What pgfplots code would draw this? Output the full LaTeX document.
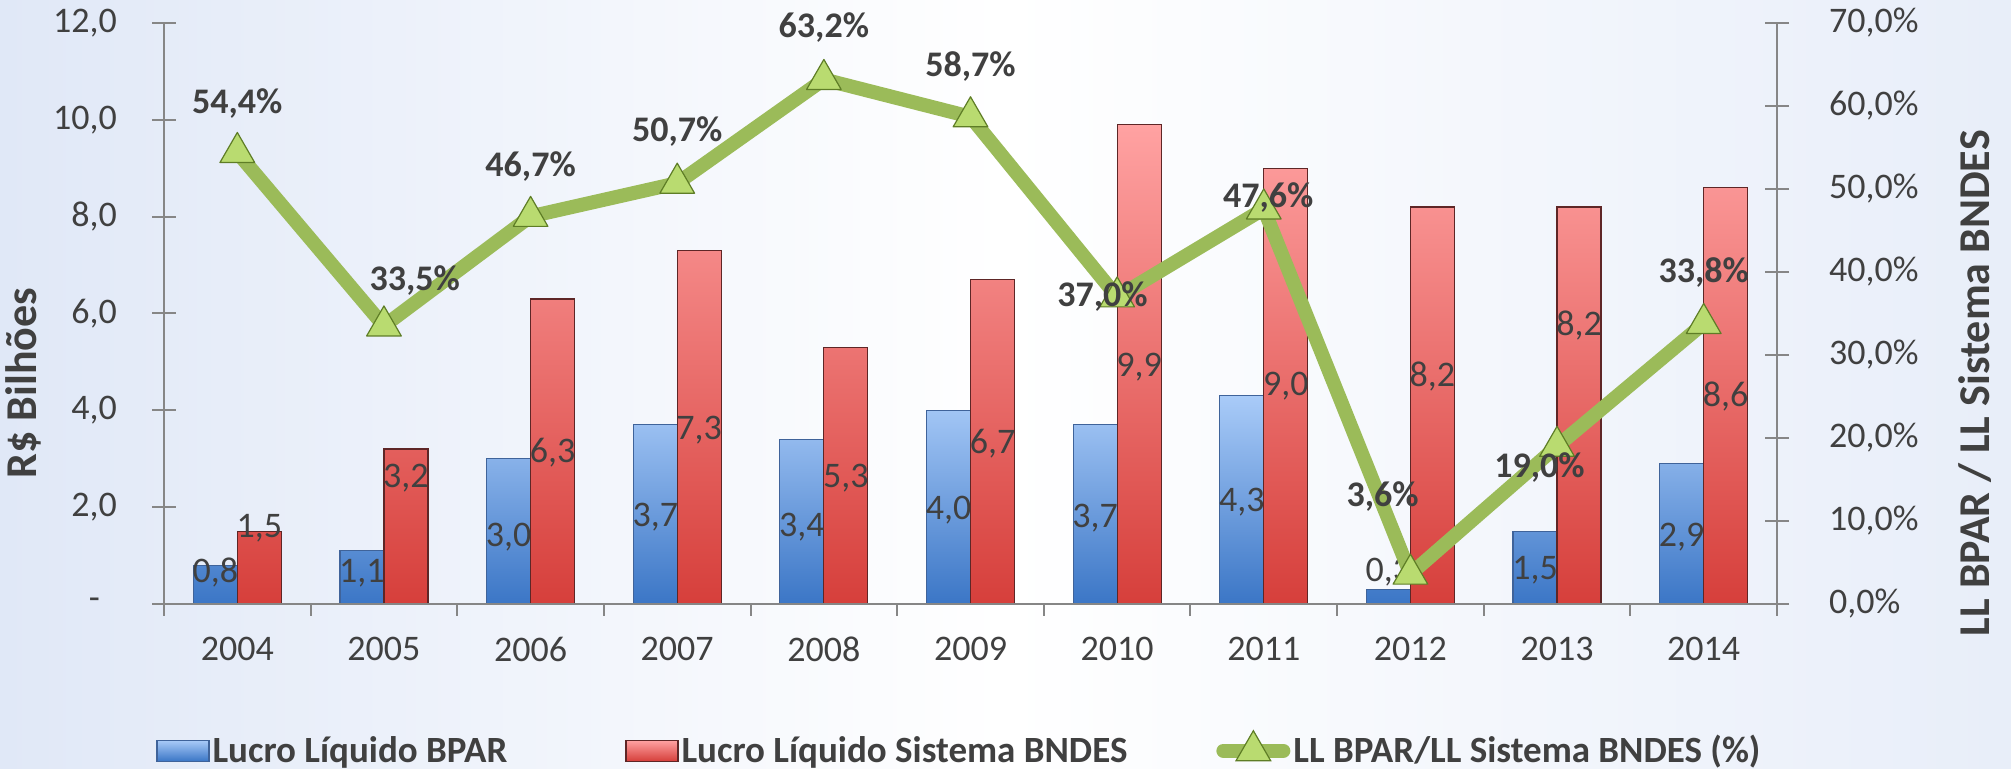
\documentclass[border=0pt]{standalone}
\usepackage{pgfplots}
\pgfplotsset{compat=1.18}
\usepackage{pgfplotstable}
\usepackage{fontspec}
\setmainfont{Carlito}

\definecolor{textgray}{HTML}{404040}
\definecolor{axisgray}{HTML}{868686}
\definecolor{blueTop}{HTML}{A9CBF8}
\definecolor{blueBot}{HTML}{3B76C6}
\definecolor{blueEdge}{HTML}{3F639A}
\definecolor{redTop}{HTML}{FFA2A2}
\definecolor{redBot}{HTML}{D63F3B}
\definecolor{redEdge}{HTML}{5E2626}
\definecolor{lineGreen}{HTML}{9BBB59}
\definecolor{markFill}{HTML}{B9DB70}
\definecolor{markEdge}{HTML}{5E7D26}
\definecolor{bgblue}{HTML}{E0E8F7}

% x = category index (2004 = 0), v = value, ly = label height
\pgfplotstableread{
x v ly
0 0.8 0.66
1 1.1 0.64
2 3.0 1.38
3 3.7 1.80
4 3.4 1.59
5 4.0 1.94
6 3.7 1.78
7 4.3 2.11
8 0.3 0.66
9 1.5 0.70
10 2.9 1.38
}\bpar

\pgfplotstableread{
x v ly
0 1.5 1.57
1 3.2 2.60
2 6.3 3.12
3 7.3 3.59
4 5.3 2.60
5 6.7 3.32
6 9.9 4.90
7 9.0 4.49
8 8.2 4.70
9 8.2 5.76
10 8.6 4.28
}\sistema

\pgfplotstableread{
x v lx ly
0 54.4 0 60.3
1 33.5 1.21 39.0
2 46.7 2 52.7
3 50.7 3 56.9
4 63.2 4 69.4
5 58.7 5 64.7
6 37.0 5.90 37.0
7 47.6 7.03 49.0
8 3.6 7.81 12.9
9 19.0 8.88 16.4
10 33.8 10 39.9
}\ratio

\pgfplotsset{
  /pgf/number format/.cd, fixed, fixed zerofill, precision=1, use comma, assume math mode=true,
  /pgfplots/.cd,
  common/.style={
    at={(0,0)}, anchor=south west,
    width=806.5pt, height=290.5pt, scale only axis,
    xmin=-0.5, xmax=10.5, clip=false,
    axis line style={-, draw=axisgray, line width=1pt},
    tick label style={font=\fontsize{18}{21}\selectfont, text=textgray},
  },
  boxlegend/.style={legend image code/.code={\draw[##1] (0pt,-5.2pt) rectangle (26pt,5.2pt);}},
  linelegend/.style={legend image code/.code={
    \draw[##1, mark=none] (0pt,0pt) -- (30pt,0pt);
    \draw[##1, draw=none] plot coordinates {(15pt,0pt)};}},
}

\begin{document}
\begin{tikzpicture}
\path[use as bounding box] (-82pt,-82.5pt) rectangle (923.5pt,302pt);
\shade[left color=bgblue, right color=bgblue!75!white, middle color=white] (-82pt,-82.5pt) rectangle (923.5pt,302pt);

% Axis 1: bars, left axis
\begin{axis}[common,
  ymin=0, ymax=12,
  axis x line*=bottom, axis y line*=left,
  ytick={0,2,4,6,8,10,12},
  yticklabels={{-\kern8.5pt\relax},{2,0},{4,0},{6,0},{8,0},{10,0},{12,0}},
  xtick={0,1,2,3,4,5,6,7,8,9,10},
  xticklabels={2004,2005,2006,2007,2008,2009,2010,2011,2012,2013,2014},
  xtick style={draw=none},
  ytick style={draw=axisgray, line width=1pt},
  tick align=center, major tick length=12pt,
  yticklabel style={xshift=-14pt},
  xticklabel style={yshift=-7pt},
  ylabel={R\$ Bilhões},
  every axis y label/.style={at={(axis description cs:-0.087,0.38)}, rotate=90, anchor=center,
    font=\bfseries\fontsize{22}{24}\selectfont, text=textgray},
  every node near coord/.append style={anchor=center, font=\fontsize{18}{21}\selectfont, text=textgray},
  legend columns=3,
  legend style={at={(axis description cs:-0.0087,-0.251)}, anchor=west, draw=none, fill=none,
    font=\bfseries\fontsize{18.5}{21}\selectfont, text=textgray,
    nodes={inner sep=1.5pt},
    /tikz/column 2/.style={column sep=57.5pt},
    /tikz/column 4/.style={column sep=43pt}},
  legend cell align=left,
]
\addplot[ybar, bar width=0.3, bar shift=-0.15, draw=blueEdge, line width=0.6pt,
  top color=blueTop, bottom color=blueBot, boxlegend]
  table[x=x, y=v]{\bpar};
\addlegendentry{Lucro Líquido BPAR}
\addplot[ybar, bar width=0.3, bar shift=0.15, draw=redEdge, line width=0.6pt,
  top color=redTop, bottom color=redBot, boxlegend]
  table[x=x, y=v]{\sistema};
\addlegendentry{Lucro Líquido Sistema BNDES}
\addlegendimage{line width=7pt, color=lineGreen, line cap=round, mark=triangle*, mark size=10pt,
  mark options={fill=markFill, draw=markEdge, line width=0.6pt}, linelegend}
\addlegendentry{LL BPAR/LL Sistema BNDES (\%)}
% bar value labels
\addplot[draw=none, forget plot, nodes near coords, point meta=explicit]
  table[x expr=\thisrow{x}-0.15, y=ly, meta=v]{\bpar};
\addplot[draw=none, forget plot, nodes near coords, point meta=explicit]
  table[x expr=\thisrow{x}+0.15, y=ly, meta=v]{\sistema};
\end{axis}

% Axis 3: category boundary ticks
\begin{axis}[common,
  ymin=0, ymax=1,
  axis y line=none, axis x line*=bottom,
  xtick={-0.5,0.5,1.5,2.5,3.5,4.5,5.5,6.5,7.5,8.5,9.5,10.5},
  xticklabels={},
  xtick style={draw=axisgray, line width=1pt},
  tick align=outside, major tick length=6pt,
]
\end{axis}

% Axis 2: ratio line, right axis
\begin{axis}[common,
  ymin=0, ymax=70,
  axis x line=none, axis y line*=right,
  ytick={0,10,20,30,40,50,60,70},
  yticklabels={{0,0\%},{10,0\%},{20,0\%},{30,0\%},{40,0\%},{50,0\%},{60,0\%},{70,0\%}},
  ytick style={draw=axisgray, line width=1pt},
  tick align=center, major tick length=12pt,
  yticklabel style={xshift=16.5pt},
  ylabel={LL BPAR / LL Sistema BNDES},
  every axis y label/.style={at={(axis description cs:1.1228,0.38)}, rotate=90, anchor=center,
    font=\bfseries\fontsize{22}{24}\selectfont, text=textgray},
  every node near coord/.append style={anchor=center, font=\bfseries\fontsize{18}{21}\selectfont, text=textgray},
]
\addplot[line width=7pt, color=lineGreen, line join=round, mark=triangle*, mark size=10pt,
  mark options={fill=markFill, draw=markEdge, line width=0.6pt}]
  table[x=x, y=v]{\ratio};
\addplot[draw=none, forget plot, point meta=explicit,
  nodes near coords={\pgfmathprintnumber{\pgfplotspointmeta}\%}]
  table[x=lx, y=ly, meta=v]{\ratio};
\end{axis}
\end{tikzpicture}
\end{document}
